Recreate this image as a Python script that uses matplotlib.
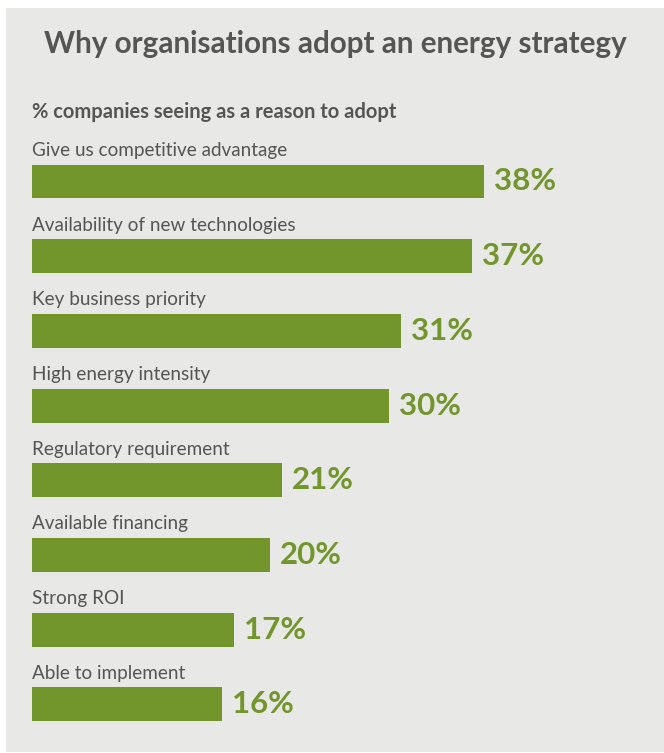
import matplotlib.pyplot as plt
from matplotlib.patches import Rectangle

# Reasons for adopting an energy strategy (% of companies)
reasons = [
    "Give us competitive advantage",
    "Availability of new technologies",
    "Key business priority",
    "High energy intensity",
    "Regulatory requirement",
    "Available financing",
    "Strong ROI",
    "Able to implement",
]
shares = [38, 37, 31, 30, 21, 20, 17, 16]

title = "Why organisations adopt an energy strategy"
subtitle = "% companies seeing as a reason to adopt"

green = "#72962c"
grey_text = "#555555"
panel = "#e8e8e6"

W, H = 664, 753
plt.rcParams["font.family"] = ["Lato", "DejaVu Sans"]

fig = plt.figure(figsize=(W / 100, H / 100), dpi=100)
fig.patch.set_facecolor("white")

# grey panel behind everything
fig.patches.append(Rectangle((6 / W, 1 - 752 / H), 1 - 6 / W, 744 / H,
                             transform=fig.transFigure, facecolor=panel,
                             edgecolor="none", zorder=-1))

fig.text(335 / W, 1 - 53 / H, title, ha="center", va="baseline",
         fontsize=21.3, fontweight="bold", color=grey_text)
fig.text(32 / W, 1 - 118 / H, subtitle, ha="left", va="baseline",
         fontsize=14.5, fontweight="bold", color=grey_text)

# bars axes: x 0..50 maps to pixels 32..627
ax = fig.add_axes([32 / W, (H - 741.75) / H, 595 / W, 634.95 / H])
ax.set_zorder(1)
ax.set_facecolor("none")
ax.set_xlim(0, 50)
ax.set_ylim(7.5, -1.0)
ax.axis("off")

pos = list(range(len(reasons)))
ax.barh(pos, shares, height=0.455, color=green)

for i, (name, val) in enumerate(zip(reasons, shares)):
    ax.annotate(name, (0, i), xytext=(0, 18.5), textcoords="offset points",
                ha="left", va="baseline", fontsize=13.6, color=grey_text)
    ax.annotate(f"{val}%", (val, i), xytext=(7, 0), textcoords="offset points",
                ha="left", va="center", fontsize=22.5, fontweight="bold",
                color=green)

fig.savefig("out.png", dpi=100, facecolor=fig.get_facecolor())
